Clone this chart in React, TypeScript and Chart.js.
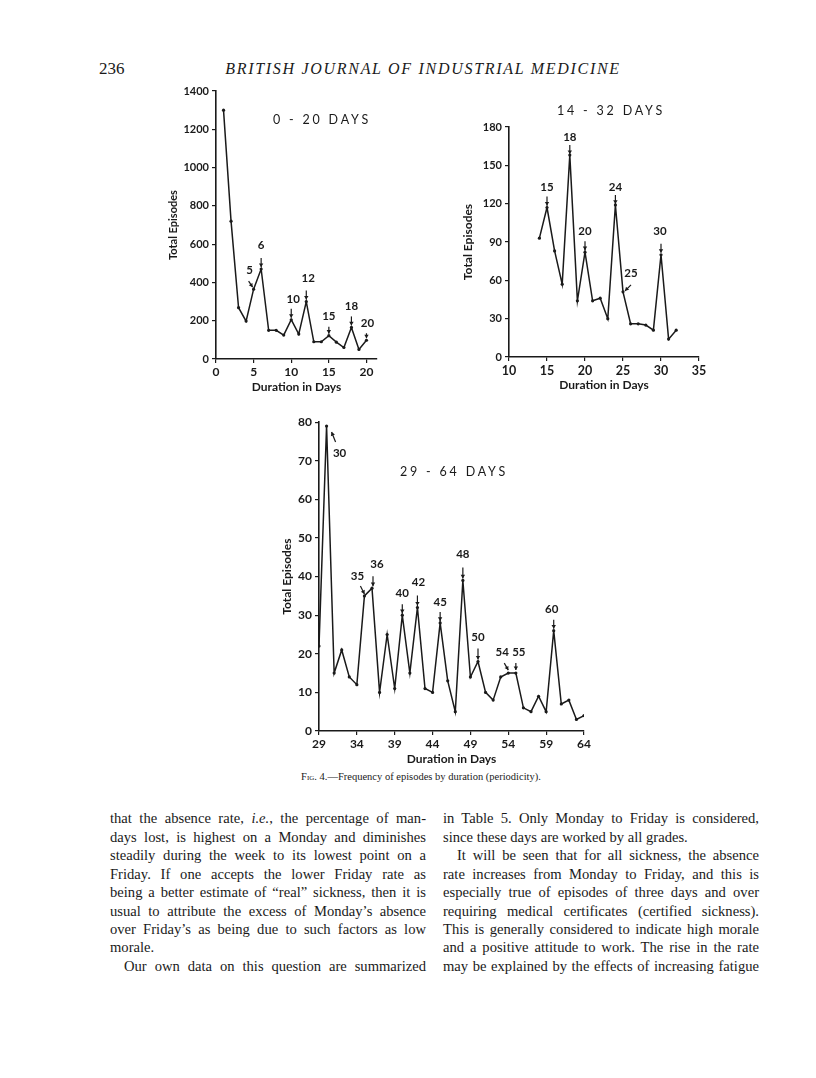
import React, { useEffect, useRef } from "react";
import { Chart, registerables } from "chart.js";
Chart.register(...registerables);

const SANS = "Lato, 'Open Sans', sans-serif";
const SERIF = "'Liberation Serif', 'DejaVu Serif', serif";
const INK = "#1a1a1a";

// ---------- Chart 1 : 0 - 20 days ----------
const days1 = [1, 2, 3, 4, 5, 6, 7, 8, 9, 10, 11, 12, 13, 14, 15, 16, 17, 18, 19, 20];
const episodes1 = [1300, 720, 268, 198, 365, 470, 150, 150, 125, 205, 130, 300, 90, 90, 122, 88, 60, 165, 50, 98];
const xTicks1 = [0, 5, 10, 15, 20];
const yTicks1 = [0, 200, 400, 600, 800, 1000, 1200, 1400];
const marked1 = [5, 6, 10, 12, 15, 18, 20];

// ---------- Chart 2 : 14 - 32 days ----------
const days2 = [14, 15, 16, 17, 18, 19, 20, 21, 22, 23, 24, 25, 26, 27, 28, 29, 30, 31, 32];
const episodes2 = [93, 117, 83, 57, 158, 44, 82, 44, 46, 30, 119, 51, 26, 26, 25, 21, 80, 14, 21];
const xTicks2 = [10, 15, 20, 25, 30, 35];
const yTicks2 = [0, 30, 60, 90, 120, 150, 180];
const marked2 = [15, 18, 20, 24, 25, 30];

// ---------- Chart 3 : 29 - 64 days ----------
const days3 = [29, 30, 31, 32, 33, 34, 35, 36, 37, 38, 39, 40, 41, 42, 43, 44, 45, 46, 47, 48, 49, 50, 51, 52, 53, 54, 55, 56, 57, 58, 59, 60, 61, 62, 63, 64];
const episodes3 = [22, 79, 15, 21, 14, 12, 35, 37, 10, 25, 11, 30, 15, 32, 11, 10, 28, 13, 5, 39, 14, 18, 10, 8, 14, 15, 15, 6, 5, 9, 5, 26, 7, 8, 3, 4];
const xTicks3 = [29, 34, 39, 44, 49, 54, 59, 64];
const yTicks3 = [0, 10, 20, 30, 40, 50, 60, 70, 80];
const marked3 = [30, 35, 36, 40, 42, 45, 48, 50, 54, 55, 60];

// label / arrow placement relative to the marked point (pixels)
type Off = { lx: number; ly: number; a: number[] };
const DEF: Off = { lx: 0, ly: -21, a: [0, -11, 0, -2] };
const offs1: Record<number, Partial<Off>> = {
  5: { lx: -4, ly: -19, a: [-5, -8, -1, -2] },
  6: { ly: -24 },
  10: { lx: 2, ly: -20 },
  12: { lx: 2, ly: -23 },
  15: { ly: -19, a: [0, -9, 0, -2] },
  18: { ly: -21 },
  20: { lx: 1, ly: -17, a: [0, -7, 0, -2] },
};
const offs2: Record<number, Partial<Off>> = {
  15: { ly: -20 },
  18: { ly: -18, a: [0, -10, 0, -1] },
  20: { ly: -21 },
  24: { ly: -18, a: [0, -10, 0, -1] },
  25: { lx: 8, ly: -19, a: [8, -7, 2, -1] },
  30: { lx: -1, ly: -23 },
};
const offs3: Record<number, Partial<Off>> = {
  30: { lx: 13, ly: 27, a: [9, 16, 5, 6] },
  35: { lx: -7, ly: -20, a: [-4, -10, 0, -2] },
  36: { lx: 5, ly: -24, a: [1, -12, 1, -2] },
  40: { ly: -22 },
  42: { lx: 1, ly: -25, a: [0, -12, 0, -2] },
  45: { ly: -21 },
  48: { ly: -26, a: [0, -13, 0, -2] },
  50: { ly: -24, a: [0, -13, 0, -2] },
  54: { lx: -6, ly: -21, a: [-4, -10, 0, -3] },
  55: { lx: 3, ly: -21, a: [0, -10, 0, -3] },
  60: { lx: -2, ly: -21 },
};

function markerPlugin(marked: number[], offs: Record<number, Partial<Off>>) {
  return {
    id: "markers",
    afterDatasetsDraw(chart: any) {
      const ctx = chart.ctx;
      const xs = chart.scales.x;
      const ys = chart.scales.y;
      const data = chart.data.datasets[0].data as { x: number; y: number }[];
      ctx.save();
      ctx.fillStyle = INK;
      ctx.strokeStyle = INK;
      ctx.lineWidth = 1.2;
      ctx.font = `bold 11.5px ${SANS}`;
      ctx.textAlign = "center";
      ctx.textBaseline = "middle";
      for (const d of marked) {
        const pt = data.find((p) => p.x === d);
        if (!pt) continue;
        const px = xs.getPixelForValue(d);
        const py = ys.getPixelForValue(pt.y);
        const o = { ...DEF, ...(offs[d] || {}) } as Off;
        ctx.fillText(String(d), px + o.lx, py + o.ly);
        const [x1, y1, x2, y2] = o.a;
        const ax = px + x1, ay = py + y1, bx = px + x2, by = py + y2;
        ctx.beginPath();
        ctx.moveTo(ax, ay);
        ctx.lineTo(bx, by);
        ctx.stroke();
        const th = Math.atan2(by - ay, bx - ax);
        const hl = 3.6, hw = 2.2;
        ctx.beginPath();
        ctx.moveTo(bx, by);
        ctx.lineTo(bx - hl * Math.cos(th) + hw * Math.sin(th), by - hl * Math.sin(th) - hw * Math.cos(th));
        ctx.lineTo(bx - hl * Math.cos(th) - hw * Math.sin(th), by - hl * Math.sin(th) + hw * Math.cos(th));
        ctx.closePath();
        ctx.fill();
      }
      ctx.restore();
    },
  };
}

type Spec = {
  days: number[];
  values: number[];
  xTicks: number[];
  yTicks: number[];
  xMin: number;
  xMax: number;
  yMax: number;
  yWidth: number;
  xFont: number;
  yFont: number;
  yTitleFont: number;
  marked: number[];
  offs: Record<number, Partial<Off>>;
};

function LineChart({ spec, left, top, width, height }: { spec: Spec; left: number; top: number; width: number; height: number }) {
  const ref = useRef<HTMLCanvasElement>(null);
  useEffect(() => {
    if (!ref.current) return;
    const axisCommon = {
      type: "linear" as const,
      grid: { display: true, drawOnChartArea: false, drawTicks: true, tickLength: 4, color: INK, lineWidth: 1.2 },
      border: { display: true, color: INK, width: 1.6 },
    };
    const chart = new Chart(ref.current, {
      type: "line",
      data: {
        datasets: [
          {
            data: spec.days.map((d, i) => ({ x: d, y: spec.values[i] })),
            borderColor: INK,
            borderWidth: 1.5,
            pointRadius: 1.6,
            pointBackgroundColor: INK,
            pointBorderWidth: 0,
            tension: 0,
            fill: false,
          },
        ],
      },
      options: {
        responsive: false,
        animation: false,
        devicePixelRatio: 1,
        layout: { padding: { top: 10, right: 12, left: 0, bottom: 0 } },
        plugins: { legend: { display: false }, tooltip: { enabled: false } },
        scales: {
          x: {
            ...axisCommon,
            min: spec.xMin,
            max: spec.xMax,
            afterBuildTicks: (s: any) => {
              s.ticks = spec.xTicks.map((v) => ({ value: v }));
            },
            afterFit: (s: any) => {
              s.height = 39;
            },
            ticks: { color: INK, font: { family: SANS, size: spec.xFont, weight: "bold" }, padding: 2, maxRotation: 0, autoSkip: false, callback: (v: any) => String(v) },
            title: { display: true, text: "Duration in Days", color: INK, font: { family: SANS, size: 12, weight: "bold" }, padding: { top: 4, bottom: 4 } },
          },
          y: {
            ...axisCommon,
            min: 0,
            max: spec.yMax,
            afterBuildTicks: (s: any) => {
              s.ticks = spec.yTicks.map((v) => ({ value: v }));
            },
            afterFit: (s: any) => {
              s.width = spec.yWidth;
            },
            ticks: { color: INK, font: { family: SANS, size: spec.yFont, weight: "bold" }, padding: 3, autoSkip: false, callback: (v: any) => String(v) },
            title: { display: true, text: "Total Episodes", color: INK, font: { family: SANS, size: spec.yTitleFont, weight: "bold" }, padding: { top: 4, bottom: 4 } },
          },
        },
      },
      plugins: [markerPlugin(spec.marked, spec.offs)],
    } as any);
    return () => chart.destroy();
  }, [spec]);
  return (
    <div style={{ position: "absolute", left, top, width, height }}>
      <canvas ref={ref} width={width} height={height} style={{ display: "block" }} />
    </div>
  );
}

const spec1: Spec = { days: days1, values: episodes1, xTicks: xTicks1, yTicks: yTicks1, xMin: 0, xMax: 21.4, yMax: 1400, yWidth: 53, xFont: 12, yFont: 11, yTitleFont: 11, marked: marked1, offs: offs1 };
const spec2: Spec = { days: days2, values: episodes2, xTicks: xTicks2, yTicks: yTicks2, xMin: 10, xMax: 35, yMax: 180, yWidth: 52, xFont: 12.5, yFont: 11, yTitleFont: 12, marked: marked2, offs: offs2 };
const spec3: Spec = { days: days3, values: episodes3, xTicks: xTicks3, yTicks: yTicks3, xMin: 29, xMax: 64, yMax: 80, yWidth: 43, xFont: 12, yFont: 12, yTitleFont: 12, marked: marked3, offs: offs3 };

const leftLines = [
  "that the absence rate, i.e., the percentage of man-",
  "days lost, is highest on a Monday and diminishes",
  "steadily during the week to its lowest point on a",
  "Friday.  If one accepts the lower Friday rate as",
  "being a better estimate of \u201creal\u201d sickness, then it is",
  "usual to attribute the excess of Monday\u2019s absence",
  "over Friday\u2019s as being due to such factors as low",
  "morale.",
  "Our own data on this question are summarized",
];
const leftIndent = [8];
const leftRagged = [7];
const rightLines = [
  "in Table 5.  Only Monday to Friday is considered,",
  "since these days are worked by all grades.",
  "It will be seen that for all sickness, the absence",
  "rate increases from Monday to Friday, and this is",
  "especially true of episodes of three days and over",
  "requiring medical certificates (certified sickness).",
  "This is generally considered to indicate high morale",
  "and a positive attitude to work.  The rise in the rate",
  "may be explained by the effects of increasing fatigue",
];
const rightIndent = [2];
const rightRagged = [1];

function Column({ lines, x, indent, ragged }: { lines: string[]; x: number; indent: number[]; ragged: number[] }) {
  const lh = 18.44;
  const first = 818.6;
  return (
    <>
      {lines.map((t, i) => {
        const ind = indent.includes(i) ? 14 : 0;
        const isRag = ragged.includes(i);
        const parts = t.split("i.e.,");
        return (
          <div
            key={i}
            style={{
              position: "absolute",
              left: x + ind,
              top: first + i * lh - lh / 2,
              width: 316 - ind,
              height: lh,
              lineHeight: `${lh}px`,
              fontFamily: SERIF,
              fontSize: 14.6,
              color: INK,
              whiteSpace: "nowrap",
              textAlign: isRag ? "left" : "justify",
              textAlignLast: isRag ? "left" : "justify",
            }}
          >
            {parts.length > 1 ? (
              <>
                {parts[0]}
                <i>i.e.</i>,{parts[1]}
              </>
            ) : (
              t
            )}
          </div>
        );
      })}
    </>
  );
}

const chartTitle = (text: string, cx: number, cy: number) => (
  <div
    style={{
      position: "absolute",
      left: cx - 80,
      top: cy - 8,
      width: 160,
      height: 16,
      lineHeight: "16px",
      textAlign: "center",
      fontFamily: SANS,
      fontSize: 12.5,
      letterSpacing: 2.8,
      color: INK,
      whiteSpace: "pre",
    }}
  >
    {text}
  </div>
);

export default function App() {
  return (
    <div style={{ position: "absolute", left: 0, top: 0, width: 816, height: 1078, background: "#fff", overflow: "hidden" }}>
      <div style={{ position: "absolute", left: 99, top: 58, fontFamily: SERIF, fontSize: 17, lineHeight: "22px", color: INK }}>236</div>
      <div
        style={{
          position: "absolute",
          left: 200,
          top: 58,
          width: 446,
          textAlign: "center",
          fontFamily: SERIF,
          fontStyle: "italic",
          fontSize: 16,
          letterSpacing: 1.7,
          lineHeight: "22px",
          color: INK,
          whiteSpace: "nowrap",
        }}
      >
        BRITISH JOURNAL OF INDUSTRIAL MEDICINE
      </div>

      <LineChart spec={spec1} left={163} top={81} width={226} height={317} />
      <LineChart spec={spec2} left={457} top={117} width={254} height={279} />
      <LineChart spec={spec3} left={276} top={412} width={320} height={358} />

      {chartTitle("0 - 20 DAYS", 322, 120)}
      {chartTitle("14 - 32 DAYS", 611, 111)}
      {chartTitle("29 - 64 DAYS", 454, 472)}

      <div
        style={{
          position: "absolute",
          left: 221,
          top: 770,
          width: 400,
          textAlign: "center",
          fontFamily: SERIF,
          fontSize: 10.5,
          lineHeight: "14px",
          color: INK,
          whiteSpace: "nowrap",
        }}
      >
        <span style={{ fontVariant: "small-caps" }}>Fig.</span> 4.—Frequency of episodes by duration (periodicity).
      </div>

      <Column lines={leftLines} x={110} indent={leftIndent} ragged={leftRagged} />
      <Column lines={rightLines} x={443} indent={rightIndent} ragged={rightRagged} />
    </div>
  );
}
